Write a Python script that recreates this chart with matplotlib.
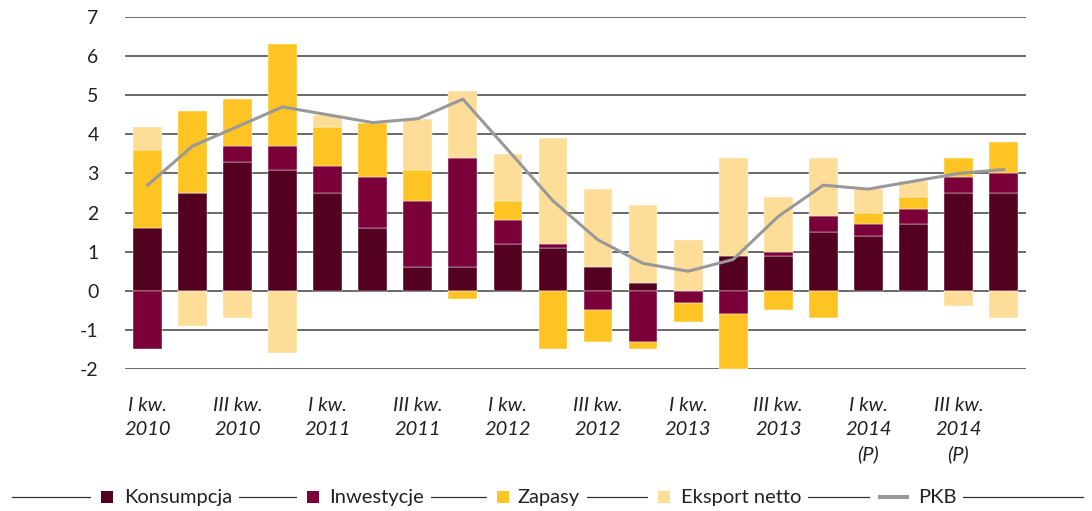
import numpy as np
import matplotlib
matplotlib.use("Agg")
from matplotlib import pyplot as plt
from matplotlib.patches import Rectangle
from matplotlib.lines import Line2D

plt.rcParams['font.family'] = ['Lato', 'DejaVu Sans']

# dane (kontrybucje do wzrostu PKB, pkt proc.)
kwartaly = ["I kw.\n2010", "", "III kw.\n2010", "", "I kw.\n2011", "", "III kw.\n2011", "",
            "I kw.\n2012", "", "III kw.\n2012", "", "I kw.\n2013", "", "III kw.\n2013", "",
            "I kw.\n2014\n(P)", "", "III kw.\n2014\n(P)", ""]
konsumpcja = [1.6, 2.5, 3.3, 3.1, 2.5, 1.6, 0.6, 0.6, 1.2, 1.1, 0.6, 0.2, 0.0, 0.9, 0.9, 1.5, 1.4, 1.7, 2.5, 2.5]
inwestycje = [-1.5, 0.0, 0.4, 0.6, 0.7, 1.3, 1.7, 2.8, 0.6, 0.1, -0.5, -1.3, -0.3, -0.6, 0.1, 0.4, 0.3, 0.4, 0.4, 0.5]
zapasy = [2.0, 2.1, 1.2, 2.6, 1.0, 1.4, 0.8, -0.2, 0.5, -1.5, -0.8, -0.2, -0.5, -1.4, -0.5, -0.7, 0.3, 0.3, 0.5, 0.8]
eksport = [0.6, -0.9, -0.7, -1.6, 0.3, 0.0, 1.3, 1.7, 1.2, 2.7, 2.0, 2.0, 1.3, 2.5, 1.4, 1.5, 0.6, 0.4, -0.4, -0.7]
pkb = [2.7, 3.7, 4.2, 4.7, 4.5, 4.3, 4.4, 4.9, 3.6, 2.3, 1.3, 0.7, 0.5, 0.8, 1.9, 2.7, 2.6, 2.8, 3.0, 3.1]

serie = [("Konsumpcja", konsumpcja, "#530021"),
         ("Inwestycje", inwestycje, "#7b0039"),
         ("Zapasy", zapasy, "#fdc424"),
         ("Eksport netto", eksport, "#fddd98")]

W, H = 1092, 511
fig = plt.figure(figsize=(W / 100, H / 100), dpi=100)
ax = fig.add_axes([125 / W, 1 - 369 / H, (1026 - 125) / W, (369 - 17) / H])

x = np.arange(len(pkb))
pos = np.zeros(len(x))
neg = np.zeros(len(x))
for nazwa, v, kolor in serie:
    v = np.array(v)
    dol = np.where(v >= 0, pos, neg)
    ax.bar(x, v, 0.64, bottom=dol, color=kolor, edgecolor="white", linewidth=0.3, zorder=2)
    pos = pos + np.clip(v, 0, None)
    neg = neg + np.clip(v, None, 0)

ax.plot(x, pkb, color="#999999", lw=2.2, zorder=3)

for yy in range(-2, 8):
    ax.axhline(yy, color="#5e5e5e", lw=1.3, zorder=1)

ax.set_xlim(-0.5, 19.5)
ax.set_ylim(-2, 7)
ax.set_yticks(range(-2, 8))
ax.set_yticklabels([str(i) for i in range(-2, 8)], fontsize=14, color="#222222")
ax.set_xticks(x)
ax.set_xticklabels(kwartaly, fontsize=14.5, style="italic", color="#222222", linespacing=1.5)
ax.tick_params(length=0)
ax.tick_params(axis="y", pad=19)
ax.tick_params(axis="x", pad=20)
for s in ax.spines.values():
    s.set_visible(False)

# legenda z liniami pomiedzy
ly = 1 - 497 / H
fig.add_artist(Line2D([12 / W, 1083 / W], [ly, ly], color="#333333", lw=0.9, zorder=0))
elementy = [(101, 124, "Konsumpcja", "#530021", "sq"),
            (307, 329, "Inwestycje", "#7b0039", "sq"),
            (497, 518, "Zapasy", "#fdc424", "sq"),
            (658, 681, "Eksport netto", "#fddd98", "sq"),
            (880, 918, "PKB", "#999999", "ln")]
for sx, tx, nazwa, kolor, typ in elementy:
    fig.add_artist(Rectangle(((sx - 10) / W, ly - 8 / H), (tx - sx + 10) / W, 16 / H,
                             transform=fig.transFigure, facecolor="white", edgecolor="none", zorder=1))
    if typ == "sq":
        fig.add_artist(Rectangle((sx / W, ly - 6 / H), 12 / W, 12 / H, transform=fig.transFigure,
                                 facecolor=kolor, edgecolor="none", zorder=2))
    else:
        fig.add_artist(Line2D([sx / W, (sx + 27) / W], [ly, ly], color=kolor, lw=3, zorder=2))
    fig.text(tx / W, ly, nazwa, fontsize=14.5, color="#222222", va="center", ha="left", zorder=3,
             bbox=dict(facecolor="white", edgecolor="none", pad=5))

fig.savefig("out.png", dpi=100)
